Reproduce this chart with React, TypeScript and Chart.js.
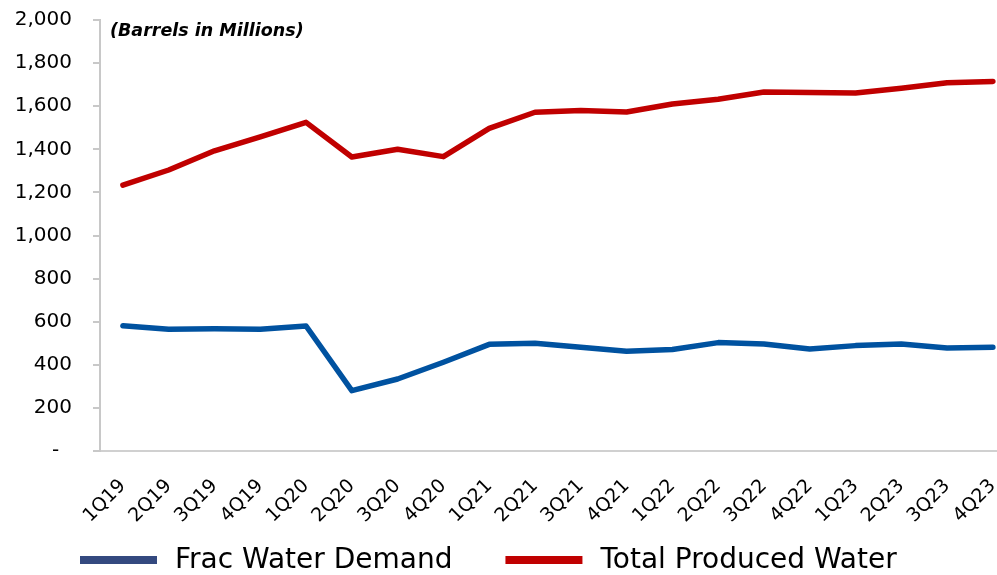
import React, { useEffect, useRef } from "react";
import { Chart, registerables } from "chart.js";

Chart.register(...registerables);

const categories = [
  "1Q19", "2Q19", "3Q19", "4Q19",
  "1Q20", "2Q20", "3Q20", "4Q20",
  "1Q21", "2Q21", "3Q21", "4Q21",
  "1Q22", "2Q22", "3Q22", "4Q22",
  "1Q23", "2Q23", "3Q23", "4Q23",
];

const fracWaterDemand = [581, 565, 567, 565, 580, 280, 334, 412, 495, 500, 481, 463, 471, 503, 497, 473, 489, 497, 478, 481];
const totalProducedWater = [1234, 1304, 1393, 1458, 1525, 1364, 1400, 1366, 1497, 1572, 1580, 1573, 1610, 1632, 1666, 1663, 1661, 1683, 1709, 1715];

const seriesLabels = ["Frac Water Demand", "Total Produced Water"];
const lineColors = ["#0052a0", "#c00000"];
const legendColors = ["#34497f", "#c00000"];
const unitLabel = "(Barrels in Millions)";

const yMin = 0;
const yMax = 2000;
const yStep = 200;

export default function App() {
  const canvasRef = useRef<HTMLCanvasElement | null>(null);

  useEffect(() => {
    const canvas = canvasRef.current;
    if (!canvas) return;

    const titlePlugin = {
      id: "unitTitle",
      afterDraw(chart: any) {
        const ctx = chart.ctx;
        ctx.save();
        ctx.font = "italic bold 17.5px 'DejaVu Sans'";
        ctx.fillStyle = "#000";
        ctx.textAlign = "left";
        ctx.textBaseline = "middle";
        ctx.fillText(unitLabel, chart.chartArea.left + 10, chart.chartArea.top + 11);
        ctx.restore();
      },
    };

    const legendPlugin = {
      id: "customLegend",
      afterDraw(chart: any) {
        const ctx = chart.ctx;
        ctx.save();
        ctx.font = "28px 'DejaVu Sans'";
        ctx.textAlign = "left";
        ctx.textBaseline = "middle";
        const cy = 560;
        const boxW = 77;
        const boxH = 8;
        const gap = 18;
        const itemGap = 53;
        let x = 80;
        chart.data.datasets.forEach((ds: any, i: number) => {
          ctx.fillStyle = legendColors[i];
          ctx.fillRect(x, cy - boxH / 2, boxW, boxH);
          x += boxW + gap;
          ctx.fillStyle = "#000";
          ctx.fillText(ds.label, x, cy + 1);
          x += ctx.measureText(ds.label).width + itemGap;
        });
        ctx.restore();
      },
    };

    const chart = new Chart(canvas, {
      type: "line",
      data: {
        datasets: [
          {
            label: seriesLabels[0],
            data: fracWaterDemand.map((v, i) => ({ x: i, y: v })),
            borderColor: lineColors[0],
            backgroundColor: lineColors[0],
            borderWidth: 5.5,
            pointRadius: 0,
            tension: 0,
            borderCapStyle: "round",
            borderJoinStyle: "round",
          },
          {
            label: seriesLabels[1],
            data: totalProducedWater.map((v, i) => ({ x: i, y: v })),
            borderColor: lineColors[1],
            backgroundColor: lineColors[1],
            borderWidth: 5.5,
            pointRadius: 0,
            tension: 0,
            borderCapStyle: "round",
            borderJoinStyle: "round",
          },
        ],
      },
      options: {
        responsive: false,
        animation: false,
        devicePixelRatio: 1,
        layout: { padding: { top: 20, left: 0, right: 0, bottom: 0 } },
        plugins: {
          legend: { display: false },
          tooltip: { enabled: false },
          title: { display: false },
        },
        scales: {
          x: {
            type: "linear",
            min: -0.5,
            max: 19.09,
            afterBuildTicks: (scale: any) => {
              scale.ticks = categories.map((_, i) => ({ value: i }));
            },
            afterFit: (scale: any) => {
              scale.height = 124;
              scale.paddingLeft = 0;
              scale.paddingRight = 0;
            },
            grid: { display: false, drawTicks: false },
            border: { display: true, color: "#d0d0d0", width: 2 },
            ticks: {
              autoSkip: false,
              minRotation: 45,
              maxRotation: 45,
              padding: 24,
              color: "#000",
              font: { family: "'DejaVu Sans'", size: 19 },
              callback: (v: any) => categories[Math.round(Number(v))] ?? "",
            },
          },
          y: {
            min: yMin,
            max: yMax,
            afterFit: (scale: any) => {
              scale.width = 100;
              scale.paddingTop = 0;
              scale.paddingBottom = 0;
            },
            grid: {
              display: true,
              drawOnChartArea: false,
              drawTicks: true,
              tickLength: 7,
              color: "#c8c8c8",
              lineWidth: 2,
            },
            border: { display: true, color: "#c8c8c8", width: 2 },
            ticks: {
              stepSize: yStep,
              padding: 21,
              color: "#000",
              font: { family: "'DejaVu Sans'", size: 20 },
              callback: (v: any) => (Number(v) === 0 ? "-  " : Number(v).toLocaleString("en-US")),
            },
          },
        },
      },
      plugins: [titlePlugin, legendPlugin],
    } as any);

    return () => chart.destroy();
  }, []);

  return (
    <div style={{ position: "absolute", left: 0, top: 0, width: 997, height: 575, background: "#fff" }}>
      <canvas ref={canvasRef} width={997} height={575} />
    </div>
  );
}
